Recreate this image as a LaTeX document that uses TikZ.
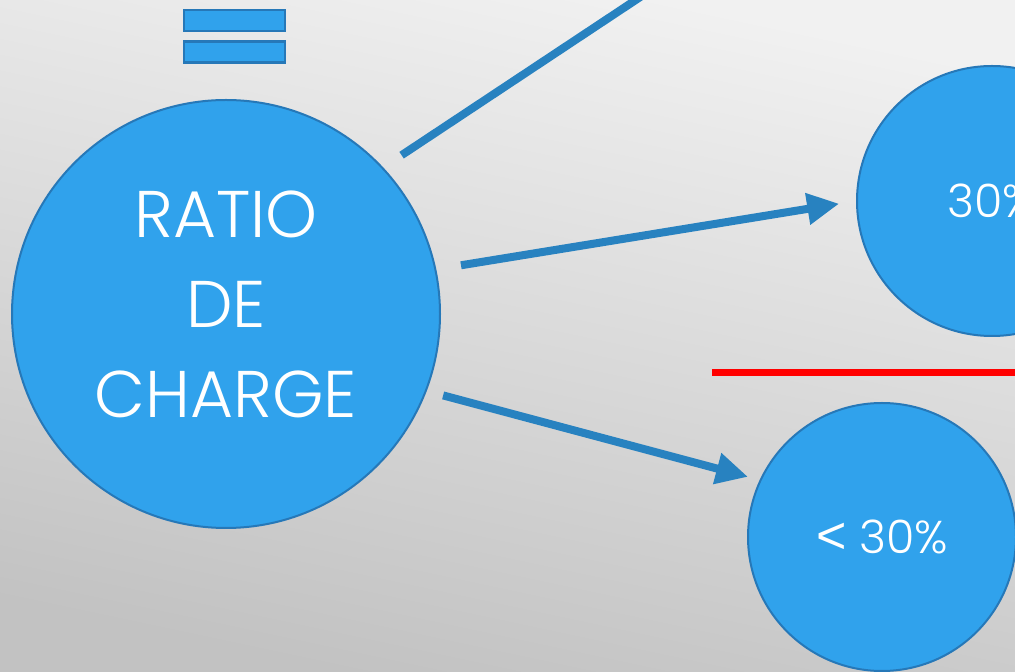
\documentclass[tikz,border=0pt]{standalone}
\usepackage{fontspec}
\setmainfont{Poppins Light}
\newfontfamily\symfont{Liberation Sans}
\usetikzlibrary{arrows.meta,positioning,calc}
\definecolor{disc}{RGB}{48,162,236}
\definecolor{rim}{RGB}{38,120,184}
\definecolor{linkblue}{RGB}{40,130,192}
\definecolor{bgtop}{RGB}{241,241,241}
\definecolor{bgbot}{RGB}{194,194,194}

\begin{document}
\begin{tikzpicture}[x=1pt,y=1pt,>={Triangle[length=32pt,width=30pt]},
  main node/.style={circle,draw=rim,line width=2pt,fill=disc,inner sep=0pt,text=white,align=center},
  bar/.style={draw=rim,line width=2.5pt,fill=disc,minimum width=101pt,minimum height=21pt,inner sep=0pt},
  link/.style={draw=linkblue,line width=8pt}]
            \clip (0,0) rectangle (1015,672);
            \shade[top color=bgtop,bottom color=bgbot,shading angle=-12] (0,0) rectangle (1015,672);

            \node[bar] (eq1) at (234.5,651.5) {};
            \node[bar] (eq2) at (234.5,620) {};

            \node[main node,minimum size=428pt,
                  label={[text=white,align=center,font=\fontsize{66}{90}\selectfont,yshift=10pt]center:RATIO\\DE\\CHARGE}] (ratio) at (226,358) {};
            \node[main node,minimum size=270pt,font=\fontsize{46}{50}\selectfont] (sup) at (992,471) {30\%};
            \node[main node,minimum size=268pt,font=\fontsize{46}{50}\selectfont] (inf) at (882,135) {{\symfont\fontsize{52}{52}\selectfont <} 30\%};

            \coordinate (haut) at (681,702);
            \coordinate (seuil a) at (712,299);
            \coordinate (seuil b) at (1015,299);

            \path[every edge/.style={link}]
                (ratio.43) edge[shorten <=22pt] (haut)
                (ratio.12.5) edge[->,shorten <=25pt,shorten >=17pt] (sup.180)
                (ratio.-21) edge[->,shorten <=17pt,shorten >=12pt] (inf.155)
            ;

            \draw[red,line width=7pt] (seuil a) -- (seuil b);
        \end{tikzpicture}
\end{document}
